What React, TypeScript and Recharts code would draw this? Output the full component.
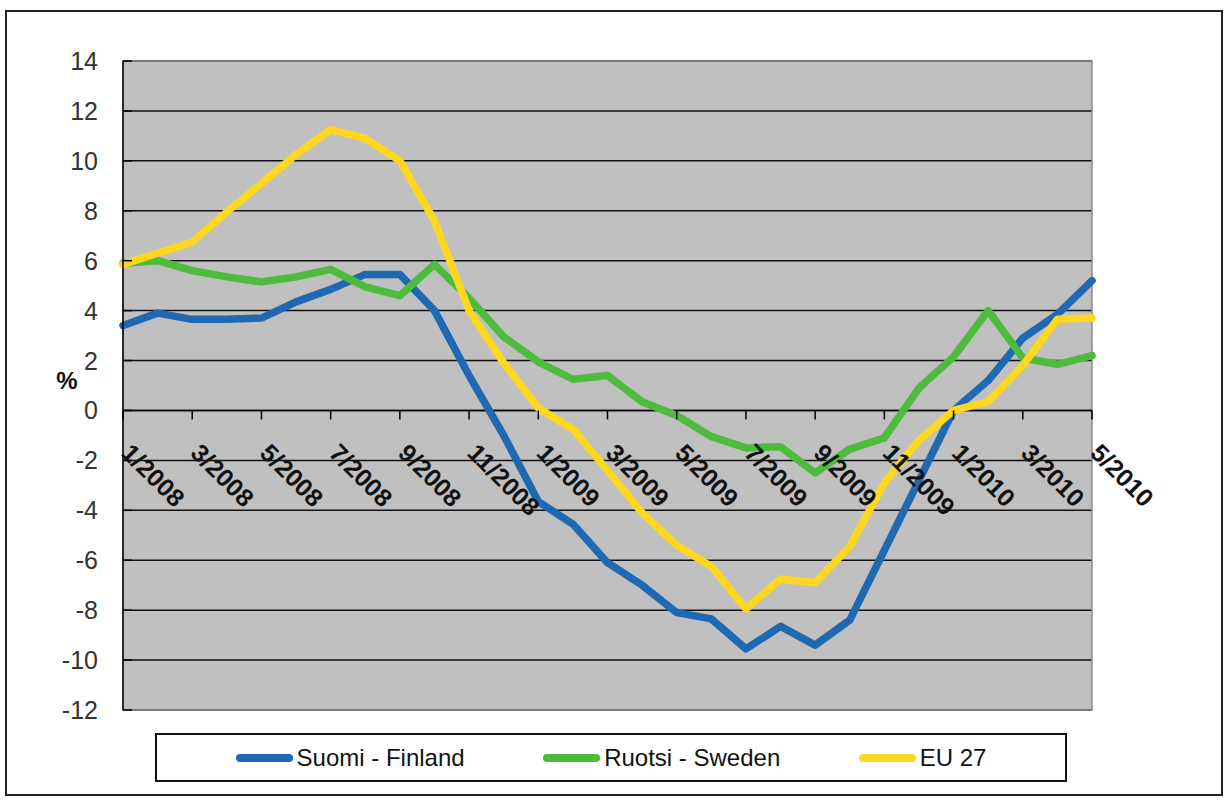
import React from 'react'
import { LineChart, Line, XAxis, YAxis, CartesianGrid, ReferenceArea, ReferenceLine } from 'recharts'

const months = [
  '1/2008', '2/2008', '3/2008', '4/2008', '5/2008', '6/2008', '7/2008', '8/2008', '9/2008', '10/2008', '11/2008', '12/2008',
  '1/2009', '2/2009', '3/2009', '4/2009', '5/2009', '6/2009', '7/2009', '8/2009', '9/2009', '10/2009', '11/2009', '12/2009',
  '1/2010', '2/2010', '3/2010', '4/2010', '5/2010',
]

const finland = [3.4, 3.9, 3.65, 3.65, 3.7, 4.35, 4.85, 5.45, 5.45, 4.0, 1.4, -1.0, -3.65, -4.55, -6.1, -7.0, -8.1, -8.35, -9.55, -8.65, -9.4, -8.4, -5.6, -2.8, 0.0, 1.2, 2.9, 3.85, 5.2]
const sweden = [5.9, 6.0, 5.6, 5.35, 5.15, 5.35, 5.65, 4.95, 4.6, 5.85, 4.5, 2.95, 1.95, 1.25, 1.4, 0.35, -0.2, -1.05, -1.5, -1.45, -2.5, -1.55, -1.1, 0.9, 2.15, 4.0, 2.1, 1.85, 2.2]
const eu27 = [5.85, 6.3, 6.75, 7.95, 9.1, 10.25, 11.25, 10.9, 10.0, 7.6, 4.0, 1.9, 0.1, -0.75, -2.4, -4.1, -5.4, -6.25, -7.95, -6.75, -6.9, -5.45, -2.9, -1.2, 0.0, 0.35, 1.8, 3.65, 3.7]

const yTicks = [-12, -10, -8, -6, -4, -2, 0, 2, 4, 6, 8, 10, 12, 14]

const series = [
  { key: 'finland', name: 'Suomi - Finland', color: '#1f68b2' },
  { key: 'sweden', name: 'Ruotsi - Sweden', color: '#4dbb3c' },
  { key: 'eu27', name: 'EU 27', color: '#fdd81e' },
]

const data = months.map((month, i) => ({ month, finland: finland[i], sweden: sweden[i], eu27: eu27[i] }))

// plot box: 123..1092 x 61..710, y domain -12..14
const PLOT_TOP = 61
const PLOT_H = 649
const ZERO_Y = PLOT_TOP + (14 / 26) * PLOT_H

function MonthTick({ x, payload }: any) {
  return (
    <g>
      <line x1={x} y1={ZERO_Y} x2={x} y2={ZERO_Y + 9} stroke="#000" strokeWidth={1.5} />
      <text
        x={0}
        y={0}
        transform={`translate(${x - 3},${ZERO_Y + 44}) rotate(45)`}
        fontSize={25}
        fontWeight="bold"
        fill="#111"
      >
        {payload.value}
      </text>
    </g>
  )
}

function PctTick({ x, y, payload }: any) {
  return (
    <g>
      <line x1={x} y1={y} x2={x + 9} y2={y} stroke="#000" strokeWidth={1.5} />
      <text x={x - 25} y={y} dy={9} textAnchor="end" fontSize={25} fill="#333">
        {payload.value}
      </text>
    </g>
  )
}

function PctLabel({ viewBox }: any) {
  const vb = viewBox || { x: 63, y: 61, height: 649 }
  return (
    <text x={vb.x + 4} y={vb.y + vb.height / 2 + 3} textAnchor="middle" fontSize={24} fontWeight="bold" fill="#111">
      %
    </text>
  )
}

export default function App() {
  return (
    <div style={{ position: 'absolute', left: 0, top: 0, width: 1230, height: 803, background: '#fff', fontFamily: '"Liberation Sans", Arial, sans-serif' }}>
      <div style={{ position: 'absolute', left: 5, top: 10, width: 1218, height: 786, border: '2px solid #222', boxSizing: 'border-box' }} />
      <div style={{ position: 'absolute', left: 0, top: 0 }}>
        <LineChart width={1230} height={803} data={data} margin={{ top: 61, right: 138, bottom: 92, left: 63 }}>
          <CartesianGrid vertical={false} fill="#c0c0c0" stroke="#111" strokeWidth={1.5} />
          <ReferenceArea y1={-12} y2={14} fill="none" stroke="#8c8c8c" strokeWidth={1.5} ifOverflow="visible" />
          <YAxis
            domain={[-12, 14]}
            ticks={yTicks}
            interval={0}
            width={60}
            tickSize={0}
            tickMargin={0}
            tickLine={false}
            axisLine={{ stroke: '#000', strokeWidth: 1.5 }}
            tick={<PctTick />}
            label={<PctLabel />}
          />
          <ReferenceLine y={0} stroke="#000" strokeWidth={1.5} />
          {series.map((s) => (
            <Line
              key={s.key}
              type="linear"
              dataKey={s.key}
              name={s.name}
              stroke={s.color}
              strokeWidth={7.5}
              strokeLinejoin="round"
              strokeLinecap="round"
              dot={false}
              isAnimationActive={false}
            />
          ))}
          <XAxis dataKey="month" height={1} interval={1} axisLine={false} tickLine={false} tick={<MonthTick />} />
        </LineChart>
      </div>
      <div
        style={{
          position: 'absolute',
          left: 155,
          top: 733,
          width: 912,
          height: 49,
          border: '2px solid #111',
          boxSizing: 'border-box',
          display: 'flex',
          justifyContent: 'space-evenly',
          alignItems: 'center',
          fontSize: 24,
          color: '#111',
        }}
      >
        {series.map((s) => (
          <div key={s.key} style={{ display: 'flex', alignItems: 'center' }}>
            <div style={{ width: 57, height: 8, borderRadius: 4, background: s.color, marginRight: 4 }} />
            <span>{s.name}</span>
          </div>
        ))}
      </div>
    </div>
  )
}
